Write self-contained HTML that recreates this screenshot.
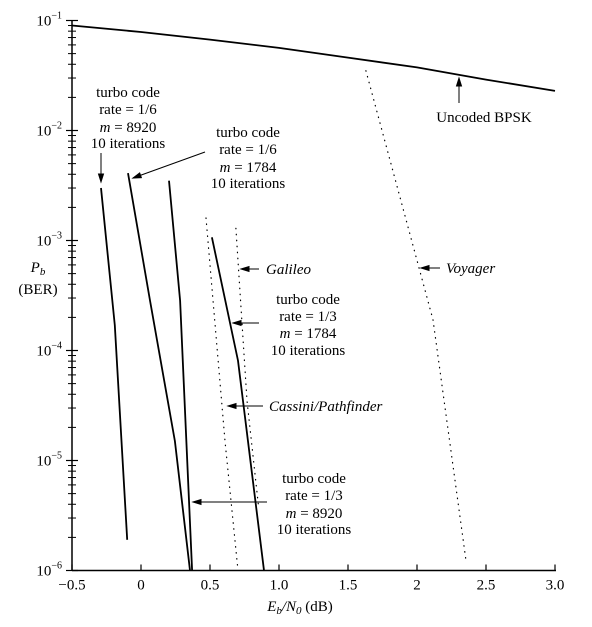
<!DOCTYPE html>
<html><head><meta charset="utf-8">
<style>
html,body{margin:0;padding:0;background:#fff;}
svg{display:block;font-family:"Liberation Serif",serif;}
</style></head>
<body>
<svg id="chart" width="592" height="627" xmlns="http://www.w3.org/2000/svg">
<g id="axes"></g>
<g id="series"></g>
<g id="annot" font-size="15" text-anchor="middle" fill="#000">
  <text><tspan x="128" y="97">turbo code</tspan><tspan x="128" y="114">rate = 1/6</tspan><tspan x="128" y="132"><tspan font-style="italic">m</tspan> = 8920</tspan><tspan x="128" y="148">10 iterations</tspan></text>
  <text><tspan x="248" y="137">turbo code</tspan><tspan x="248" y="154">rate = 1/6</tspan><tspan x="248" y="172"><tspan font-style="italic">m</tspan> = 1784</tspan><tspan x="248" y="188">10 iterations</tspan></text>
  <text x="266" y="274" text-anchor="start" font-style="italic">Galileo</text>
  <text><tspan x="308" y="304">turbo code</tspan><tspan x="308" y="321">rate = 1/3</tspan><tspan x="308" y="338"><tspan font-style="italic">m</tspan> = 1784</tspan><tspan x="308" y="355">10 iterations</tspan></text>
  <text x="269" y="411" text-anchor="start" font-style="italic">Cassini/Pathfinder</text>
  <text><tspan x="314" y="483">turbo code</tspan><tspan x="314" y="500">rate = 1/3</tspan><tspan x="314" y="518"><tspan font-style="italic">m</tspan> = 8920</tspan><tspan x="314" y="534">10 iterations</tspan></text>
  <text x="446" y="273" text-anchor="start" font-style="italic">Voyager</text>
  <text x="484" y="122">Uncoded BPSK</text>
  <text><tspan x="38" y="272" font-style="italic">P<tspan font-size="11" dy="3">b</tspan></tspan><tspan x="38" y="294">(BER)</tspan></text>
  <text x="300" y="611"><tspan font-style="italic">E<tspan font-size="11" dy="3">b</tspan><tspan dy="-3">/N</tspan><tspan font-size="11" dy="3">0</tspan></tspan><tspan dy="-3"> (dB)</tspan></text>
</g>
<g id="arrows" stroke="#000" stroke-width="1"></g>
</svg>
<script>
const xTicks=[-0.5,0,0.5,1.0,1.5,2,2.5,3.0];
const xTickLabels=["\u22120.5","0","0.5","1.0","1.5","2","2.5","3.0"];
const yExps=[-1,-2,-3,-4,-5,-6];
const bpskX=[-0.5,0,0.5,1,1.5,2,2.5,3];
const bpskY=[0.090,0.0786,0.067,0.0563,0.046,0.0375,0.029,0.0229];
const t16a8920X=[-0.29,-0.19,-0.10];
const t16a8920Y=[3.0e-3,1.7e-4,1.9e-6];
const t16a1784X=[-0.094,0.065,0.246,0.355];
const t16a1784Y=[4.1e-3,2.85e-4,1.5e-5,1e-6];
const t13a8920X=[0.203,0.283,0.37];
const t13a8920Y=[3.5e-3,2.85e-4,1e-6];
const t13a1784X=[0.514,0.703,0.891];
const t13a1784Y=[1.07e-3,8.1e-5,1e-6];
const cassiniX=[0.471,0.609,0.703];
const cassiniY=[1.6e-3,1.5e-5,1e-6];
const galileoX=[0.688,0.768,0.85];
const galileoY=[1.29e-3,3.5e-5,4e-6];
const voyagerX=[1.63,2.116,2.355];
const voyagerY=[0.035,1.9e-4,1.23e-6];

const X0=72,X1=555,Y0=20.5,DEC=110;
function sx(v){return X0+(v+0.5)*(X1-X0)/3.5;}
function sy(v){return Y0+(-1-Math.log10(v))*DEC;}
const NS="http://www.w3.org/2000/svg";
function mk(tag,parent,attrs){const e=document.createElementNS(NS,tag);for(const k in attrs)e.setAttribute(k,attrs[k]);parent.appendChild(e);return e;}
const axes=document.getElementById('axes');
let e=mk('line',axes,{x1:X0,y1:Y0,x2:X0,y2:sy(1e-6),stroke:'#000','stroke-width':1.5});


e=mk('line',axes,{x1:X0,y1:sy(1e-6),x2:X1+1,y2:sy(1e-6),stroke:'#000','stroke-width':1.5});


xTicks.forEach((t,i)=>{
  const x=sx(t);
  let tk=mk('line',axes,{x1:x,y1:sy(1e-6),x2:x,y2:sy(1e-6)-6,stroke:'#000','stroke-width':1.2});
  
  
  let tl=mk('text',axes,{x:x,y:sy(1e-6)+19,'font-size':15,'text-anchor':'middle'});
  tl.textContent=xTickLabels[i];
  
  
});
yExps.forEach(p=>{
  const y=sy(Math.pow(10,p));
  let tk=mk('line',axes,{x1:X0-6,y1:y,x2:X0+6,y2:y,stroke:'#000','stroke-width':1.2});
  
  
  let tl=mk('text',axes,{x:X0-10,y:y+5,'font-size':15,'text-anchor':'end'});
  tl.innerHTML='10<tspan font-size="10" dy="-7">\u2212'+(-p)+'</tspan>';
  
  
  if(p>-6){for(let m=2;m<=9;m++){
    const ym=sy(m*Math.pow(10,p-1));
    let mt=mk('line',axes,{x1:X0-4,y1:ym,x2:X0+4,y2:ym,stroke:'#000','stroke-width':1});
    
    
  }}
});
const ser=document.getElementById('series');
function drawLine(xs,ys,name,dotted){
  const d=xs.map((x,i)=>(i?'L':'M')+sx(x).toFixed(1)+','+sy(ys[i]).toFixed(1)).join(' ');
  const p=mk('path',ser,{d:d,fill:'none',stroke:'#000','stroke-width':dotted?1.2:1.8});
  if(dotted){p.setAttribute('stroke-dasharray','0.5 5.5');p.setAttribute('stroke-linecap','round');}
  
  
}
drawLine(bpskX,bpskY,'uncoded-bpsk-line',false);
drawLine(t16a8920X,t16a8920Y,'turbo-r16-m8920-line',false);
drawLine(t16a1784X,t16a1784Y,'turbo-r16-m1784-line',false);
drawLine(t13a8920X,t13a8920Y,'turbo-r13-m8920-line',false);
drawLine(t13a1784X,t13a1784Y,'turbo-r13-m1784-line',false);
drawLine(cassiniX,cassiniY,'cassini-line',true);
drawLine(galileoX,galileoY,'galileo-line',true);
drawLine(voyagerX,voyagerY,'voyager-line',true);
const arr=document.getElementById('arrows');
function arrow(x1,y1,x2,y2,name){
  let g=mk('g',arr,{});
  
  
  mk('line',g,{x1:x1,y1:y1,x2:x2,y2:y2});
  const a=Math.atan2(y2-y1,x2-x1),L=8,W=2.5;
  const bx=x2-L*Math.cos(a),by=y2-L*Math.sin(a);
  const px=-Math.sin(a)*W,py=Math.cos(a)*W;
  mk('polygon',g,{points:`${x2},${y2} ${bx+px},${by+py} ${bx-px},${by-py}`,fill:'#000'});
}
arrow(101,153,101,182,'arrow-r16-8920');
arrow(205,152,133,178,'arrow-r16-1784');
arrow(259,269,241,269,'arrow-galileo');
arrow(259,323,233,323,'arrow-r13-1784');
arrow(263,406,228,406,'arrow-cassini');
arrow(267,502,193,502,'arrow-r13-8920');
arrow(440,268,421,268,'arrow-voyager');
arrow(459,103,459,78,'arrow-bpsk');
</script>
</body></html>
